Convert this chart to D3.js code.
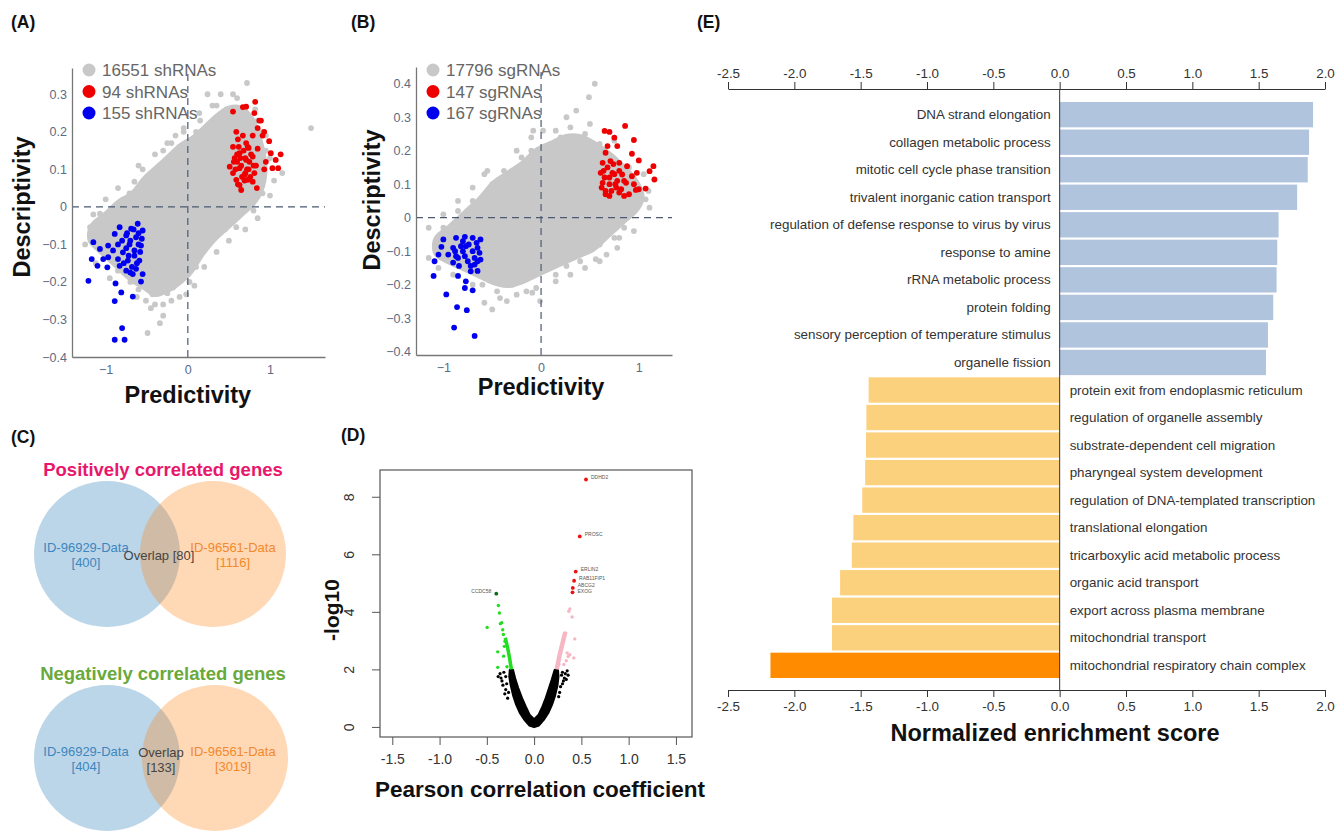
<!DOCTYPE html>
<html>
<head>
<meta charset="utf-8">
<script src="https://cdn.jsdelivr.net/npm/d3@7"></script>
<style>
  body { margin: 0; background: #fff; }
  text { font-family: "Liberation Sans", Arial, sans-serif; }
</style>
</head>
<body>
<svg id="fig" width="1337" height="832"></svg>
<script>
// ---------- panel A data (predictivity, descriptivity) ----------
const aLegend = ["16551 shRNAs", "94 shRNAs", "155 shRNAs"];
const aCloud = [[-1.2,-0.05],[-1.0,-0.01],[-0.85,0.02],[-0.7,0.04],[-0.55,0.08],[-0.4,0.11],[-0.25,0.14],[-0.1,0.17],
  [0.05,0.19],[0.2,0.22],[0.35,0.25],[0.5,0.27],[0.65,0.27],[0.8,0.24],[0.92,0.17],[0.97,0.1],[0.92,0.04],[0.8,0.0],
  [0.65,-0.03],[0.5,-0.06],[0.35,-0.09],[0.2,-0.13],[0.05,-0.18],[-0.1,-0.21],[-0.25,-0.23],[-0.4,-0.24],[-0.55,-0.22],
  [-0.7,-0.2],[-0.9,-0.16],[-1.1,-0.12],[-1.22,-0.09]];
const aGray = [[-1.19,-0.054],[-1.07,-0.018],[-0.71,0.036],[-0.65,0.067],[-0.43,0.09],[-0.55,0.1],[-0.3,0.15],[-0.1,0.16],
  [-0.2,0.17],[0.1,0.2],[0.14,0.25],[0.24,0.3],[0.3,0.22],[0.47,0.26],[0.35,0.27],[0.72,0.33],[1.5,0.21],[1.15,0.09],
  [1.05,0.07],[0.91,0.036],[0.79,0.009],[0.63,-0.018],[0.59,-0.054],[0.3,-0.072],[0.14,-0.125],[0.02,-0.2],[-0.02,-0.233],
  [-0.18,-0.215],[-0.34,-0.31],[-0.3,-0.29],[-0.49,-0.336],[-0.51,-0.25],[-0.43,-0.233],[-0.4,-0.26],[-0.9,-0.04],
  [-0.95,-0.075],[-1.1,-0.08],[-0.8,-0.02],[0.05,-0.14],[-0.25,-0.23],[-0.6,-0.22],[0.9,0.2],[0.95,0.15],[0.85,0.23],
  [-0.05,0.2],[0.4,0.3],[0.55,0.3],[0.25,-0.09],[0.45,-0.06],[-0.15,0.19],[-0.45,0.05],[0.7,0.03],[0.8,-0.01],[1.0,0.13],
  [0.1,-0.16],[-0.7,-0.2],[-0.85,-0.17],[-0.2,-0.25],[0.0,-0.18],
  [-1.15,-0.02],[-1.0,0.02],[-0.85,0.05],[-0.6,0.11],[-0.4,0.14],[-0.25,0.17],[-0.05,0.21],[0.15,0.23],[0.3,0.27],
  [0.6,0.29],[0.82,0.26],[0.95,0.19],[1.0,0.03],[0.85,-0.03],[0.7,-0.06],[0.5,-0.09],[0.35,-0.12],[0.2,-0.16],
  [0.08,-0.21],[-0.1,-0.24],[-0.3,-0.26],[-0.45,-0.27],[-0.62,-0.24],[-0.95,-0.19],[-1.12,-0.15],[-1.25,-0.1]];
const aRed = [[0.82,0.28],[0.71,0.267],[0.67,0.266],[0.55,0.254],[0.81,0.25],[0.87,0.23],[0.89,0.23],[0.85,0.21],[0.93,0.2],
  [0.59,0.2],[0.67,0.19],[0.79,0.19],[0.91,0.19],[0.61,0.18],[0.71,0.17],[0.99,0.175],[0.55,0.16],[0.74,0.157],[0.85,0.155],
  [1.01,0.143],[1.13,0.14],[0.63,0.143],[0.79,0.134],[0.57,0.13],[0.71,0.125],[0.95,0.12],[1.07,0.125],[0.83,0.11],
  [0.51,0.107],[0.63,0.103],[0.74,0.1],[0.93,0.1],[1.03,0.103],[1.1,0.103],[0.55,0.09],[0.69,0.085],[0.81,0.09],[0.59,0.072],
  [0.73,0.072],[0.63,0.058],[0.84,0.05],[0.79,0.067],[0.65,0.045],[0.6,0.12],[0.65,0.11],[0.7,0.13],[0.75,0.12],[0.6,0.14],
  [0.68,0.15],[0.72,0.1],[0.66,0.08],[0.58,0.1],[0.62,0.16],[0.77,0.14],[0.73,0.16],[0.64,0.13],[0.7,0.09],[0.76,0.08],
  [0.56,0.12],[0.69,0.07],[0.8,0.11],[0.61,0.06]];
const aBlue = [[-0.61,-0.045],[-0.83,-0.054],[-0.69,-0.058],[-0.55,-0.063],[-0.89,-0.072],[-0.75,-0.076],[-0.63,-0.081],
  [-1.15,-0.094],[-0.97,-0.103],[-0.85,-0.1],[-0.71,-0.1],[-0.57,-0.103],[-1.07,-0.112],[-0.91,-0.116],[-0.79,-0.121],
  [-0.65,-0.116],[-1.17,-0.139],[-1.03,-0.139],[-0.97,-0.134],[-0.85,-0.139],[-0.73,-0.143],[-0.59,-0.143],[-1.1,-0.157],
  [-0.98,-0.161],[-0.83,-0.157],[-0.75,-0.17],[-0.67,-0.179],[-0.55,-0.179],[-1.21,-0.197],[-0.88,-0.204],[-0.57,-0.199],
  [-0.81,-0.228],[-0.89,-0.251],[-0.67,-0.239],[-0.8,-0.323],[-0.89,-0.354],[-0.77,-0.354],[-0.7,-0.09],[-0.6,-0.1],
  [-0.75,-0.11],[-0.65,-0.13],[-0.6,-0.07],[-0.8,-0.09],[-0.72,-0.13],[-0.62,-0.15],[-0.68,-0.16],[-0.78,-0.15],
  [-0.58,-0.12],[-0.66,-0.06],[-0.74,-0.07],[-0.56,-0.085],[-0.63,-0.165],[-0.7,-0.175]];
const aXTicks = [-1, 0, 1];
const aYTicks = [-0.4, -0.3, -0.2, -0.1, 0, 0.1, 0.2, 0.3];

// ---------- panel B data ----------
const bLegend = ["17796 sgRNAs", "147 sgRNAs", "167 sgRNAs"];
const bCloud = [[-1.1,-0.06],[-0.95,-0.02],[-0.8,0.02],[-0.65,0.06],[-0.5,0.11],[-0.35,0.14],[-0.2,0.17],[-0.05,0.21],
  [0.1,0.23],[0.25,0.25],[0.4,0.25],[0.55,0.23],[0.7,0.2],[0.85,0.16],[1.0,0.11],[1.06,0.06],[1.0,0.02],[0.85,-0.02],
  [0.7,-0.06],[0.55,-0.1],[0.4,-0.12],[0.25,-0.14],[0.1,-0.16],[-0.05,-0.18],[-0.2,-0.2],[-0.35,-0.21],[-0.5,-0.2],
  [-0.65,-0.18],[-0.8,-0.16],[-0.95,-0.14],[-1.1,-0.11]];
const bGray = [[-0.58,0.13],[-0.38,0.14],[-0.08,0.26],[0.02,0.26],[0.26,0.3],[0.36,0.32],[0.55,0.4],[0.49,0.36],[1.11,0.03],
  [1.07,0.055],[0.95,0.02],[0.75,-0.06],[0.56,-0.124],[0.26,-0.144],[-0.01,-0.249],[-0.09,-0.224],[-0.35,-0.249],
  [-0.5,-0.274],[-0.58,-0.254],[-0.6,-0.2],[-0.45,-0.22],[-0.3,-0.2],[-0.15,-0.22],[0.15,-0.17],[0.4,-0.13],[0.6,-0.08],
  [0.85,-0.03],[1.0,0.08],[0.9,0.15],[0.6,0.22],[0.45,0.25],[0.2,0.24],[0.1,0.22],[-0.2,0.18],[-0.5,0.1],[-0.7,0.05],
  [-0.85,0.02],[-1.0,-0.03],[-0.95,-0.05],[0.3,0.27],[-0.1,0.2],[0.7,0.18],[0.8,-0.06],[0.67,-0.11],
  [-1.15,-0.03],[-1.0,0.01],[-0.85,0.05],[-0.7,0.09],[-0.55,0.14],[-0.25,0.2],[-0.1,0.24],[0.15,0.26],[0.5,0.28],
  [0.75,0.23],[1.05,0.13],[1.1,0.08],[0.95,-0.04],[0.78,-0.09],[0.6,-0.13],[0.45,-0.15],[0.3,-0.17],[0.15,-0.19],
  [-0.05,-0.21],[-0.25,-0.23],[-0.42,-0.24],[-0.7,-0.2],[-0.9,-0.17],[-1.05,-0.15],[-1.15,-0.12]];
const bRed = [[0.86,0.274],[0.65,0.259],[0.7,0.256],[0.75,0.239],[0.95,0.232],[0.78,0.214],[0.68,0.214],[0.66,0.194],
  [0.93,0.191],[1.0,0.171],[0.63,0.164],[0.71,0.169],[0.8,0.164],[0.88,0.154],[1.15,0.154],[1.11,0.139],[1.16,0.114],
  [0.61,0.134],[0.73,0.134],[0.83,0.129],[0.93,0.124],[0.98,0.134],[0.63,0.104],[0.76,0.1],[0.87,0.104],[0.95,0.1],
  [0.66,0.08],[0.8,0.075],[0.9,0.07],[1.0,0.085],[1.07,0.087],[0.7,0.065],[0.85,0.065],[0.97,0.083],[0.65,0.12],[0.7,0.1],
  [0.75,0.13],[0.68,0.15],[0.72,0.08],[0.78,0.11],[0.62,0.09],[0.74,0.16],[0.66,0.07],[0.8,0.14],[0.7,0.12],[0.85,0.11],
  [0.77,0.09],[0.82,0.085],[0.64,0.14]];
const bBlue = [[-1.0,-0.065],[-0.9,-0.09],[-1.02,-0.087],[-1.05,-0.11],[-0.95,-0.11],[-1.09,-0.13],[-1.1,-0.174],
  [-0.87,-0.06],[-0.78,-0.057],[-0.7,-0.06],[-0.62,-0.065],[-0.82,-0.085],[-0.74,-0.08],[-0.65,-0.09],[-0.87,-0.115],
  [-0.78,-0.115],[-0.68,-0.12],[-0.62,-0.125],[-0.9,-0.134],[-0.84,-0.144],[-0.72,-0.144],[-0.65,-0.159],[-0.85,-0.174],
  [-0.77,-0.19],[-0.78,-0.21],[-0.7,-0.217],[-0.97,-0.229],[-0.86,-0.267],[-0.76,-0.276],[-0.89,-0.328],[-0.68,-0.353],
  [-0.8,-0.1],[-0.7,-0.1],[-0.75,-0.13],[-0.66,-0.075],[-0.85,-0.12],[-0.72,-0.16],[-0.63,-0.105],[-0.8,-0.07],
  [-0.68,-0.14],[-0.88,-0.1],[-0.77,-0.085],[-0.65,-0.13]];
const bXTicks = [-1, 0, 1];
const bYTicks = [-0.4, -0.3, -0.2, -0.1, 0, 0.1, 0.2, 0.3, 0.4];

// ---------- panel C data ----------
const vennTitles = ["Positively correlated genes", "Negatively correlated genes"];
const vennNames = ["ID-96929-Data", "ID-96561-Data"];
const vennLeft = [400, 404];
const vennBoth = [80, 133];
const vennRight = [1116, 3019];

// ---------- panel D data (r, -log10 p) ----------
const volcanoBlack = [[0,0],[-0.05,0.06],[-0.1,0.25],[-0.15,0.5],[-0.19,0.8],[-0.22,1.1],[-0.245,1.45],[-0.26,1.75],
  [-0.255,1.98],[-0.225,1.98],[-0.2,1.65],[-0.17,1.35],[-0.13,1.0],[-0.09,0.7],[-0.05,0.42],[0,0.25],[0.05,0.42],
  [0.09,0.7],[0.125,1.0],[0.16,1.35],[0.19,1.65],[0.22,1.98],[0.25,1.98],[0.255,1.75],[0.245,1.45],[0.22,1.1],
  [0.19,0.8],[0.15,0.5],[0.1,0.25],[0.05,0.06]];
const volcanoBlackPts = [[-0.36,1.85],[-0.38,1.75],[-0.34,1.6],[-0.33,1.45],[-0.3,1.3],[-0.31,1.15],[-0.28,1.0],
  [-0.29,1.5],[-0.35,1.7],[-0.32,1.9],[-0.27,1.2],[-0.3,1.75],[0.3,1.9],[0.33,1.85],[0.36,1.8],[0.34,1.65],[0.3,1.5],
  [0.32,1.7],[0.28,1.4],[0.35,1.95],[0.27,1.2],[0.31,1.6],[0.29,1.8],[0.26,1.05]];
const volcanoGreenBand = [[-0.24,2.0],[-0.26,2.4],[-0.28,2.75],[-0.305,3.1]];
const volcanoGreen = [[-0.378,4.22],[-0.367,3.96],[-0.357,3.59],[-0.343,3.62],[-0.332,3.38],[-0.325,3.21],[-0.497,3.46],
  [-0.385,2.61],[-0.322,2.46],[-0.385,2.07],[-0.287,2.09],[-0.315,2.8],[-0.308,2.98]];
const volcanoPinkBand = [[0.24,2.0],[0.27,2.5],[0.3,2.9],[0.33,3.3]];
const volcanoPink = [[0.378,4.1],[0.367,4.02],[0.402,3.82],[0.43,3.06],[0.42,2.4],[0.35,2.57],[0.378,2.51],[0.315,2.17],
  [0.332,3.27],[0.308,3.04],[0.28,2.57],[0.262,2.17],[0.36,2.45],[0.34,2.3]];
const volcanoTopGenes = ["DDHD2", "PROSC", "ERLIN2", "RAB11FIP1", "ABCG2", "EXOG"];
const volcanoTopR = [0.549, 0.483, 0.44, 0.423, 0.409, 0.406];
const volcanoTopP = [8.6, 6.62, 5.4, 5.08, 4.83, 4.68];
const volcanoLowGene = ["CCDC58"];
const volcanoLowR = [-0.4];
const volcanoLowP = [4.63];
const dXTicks = [-1.5, -1.0, -0.5, 0.0, 0.5, 1.0, 1.5];
const dYTicks = [0, 2, 4, 6, 8];

// ---------- panel E data ----------
const terms = ["DNA strand elongation", "collagen metabolic process", "mitotic cell cycle phase transition",
  "trivalent inorganic cation transport", "regulation of defense response to virus by virus", "response to amine",
  "rRNA metabolic process", "protein folding", "sensory perception of temperature stimulus", "organelle fission",
  "protein exit from endoplasmic reticulum", "regulation of organelle assembly", "substrate-dependent cell migration",
  "pharyngeal system development", "regulation of DNA-templated transcription", "translational elongation",
  "tricarboxylic acid metabolic process", "organic acid transport", "export across plasma membrane",
  "mitochondrial transport", "mitochondrial respiratory chain complex"];
const nes = [1.91, 1.88, 1.87, 1.79, 1.65, 1.64, 1.635, 1.61, 1.57, 1.555,
  -1.44, -1.457, -1.46, -1.466, -1.488, -1.555, -1.567, -1.655, -1.716, -1.716, -2.18];
const eTicks = [-2.5, -2.0, -1.5, -1.0, -0.5, 0.0, 0.5, 1.0, 1.5, 2.0];

// ---------- drawing ----------
const svg = d3.select("#fig");
const LATO = "Lato, 'Open Sans', sans-serif";
const GRAY = "#c8c8c8", RED = "#ee0000", BLUE = "#0000ee";

function panelLabel(t, x, y) {
  svg.append("text").text(t).attr("x", x).attr("y", y)
    .attr("font-weight", "bold").attr("font-size", 17.5).attr("fill", "#111");
}
panelLabel("(A)", 11, 28);
panelLabel("(B)", 351, 28);
panelLabel("(C)", 11, 443);
panelLabel("(D)", 341, 441);
panelLabel("(E)", 697, 28);

function scatter(c) {
  const g = svg.append("g");
  const x = d3.scaleLinear().domain(c.xd).range(c.xr);
  const y = d3.scaleLinear().domain(c.yd).range(c.yr);
  g.append("path").datum(c.cloud)
    .attr("d", d3.line().x(d => x(d[0])).y(d => y(d[1])).curve(d3.curveCatmullRomClosed))
    .attr("fill", GRAY);
  [[c.gray, GRAY], [c.red, RED], [c.blue, BLUE]].forEach(([pts, col]) => {
    g.append("g").selectAll("circle").data(pts).join("circle")
      .attr("cx", d => x(d[0])).attr("cy", d => y(d[1])).attr("r", 2.9).attr("fill", col);
  });
  // zero lines
  g.append("line").attr("x1", x(0)).attr("x2", x(0)).attr("y1", c.yr[0]).attr("y2", c.yr[1] + 4)
    .attr("stroke", "#4b5a72").attr("stroke-dasharray", "7,5").attr("stroke-width", 1.2);
  g.append("line").attr("x1", c.xr[0]).attr("x2", c.xr[1]).attr("y1", y(0)).attr("y2", y(0))
    .attr("stroke", "#4b5a72").attr("stroke-dasharray", "7,5").attr("stroke-width", 1.2);
  const fmt = d3.format("");
  const xa = g.append("g").attr("transform", `translate(0,${c.yr[0]})`)
    .call(d3.axisBottom(x).tickValues(c.xt).tickFormat(fmt).tickSize(0).tickPadding(8));
  const ya = g.append("g").attr("transform", `translate(${c.xr[0]},0)`)
    .call(d3.axisLeft(y).tickValues(c.yt).tickFormat(fmt).tickSize(0).tickPadding(5));
  [xa, ya].forEach(a => {
    a.select(".domain").attr("stroke", "#777").attr("stroke-width", 1.3);
    a.selectAll("text").attr("fill", "#5b6b84").attr("font-size", 12.5).attr("font-family", "'Open Sans', sans-serif");
  });
  // legend
  const cols = [GRAY, RED, BLUE];
  c.legend.forEach((t, i) => {
    g.append("circle").attr("cx", c.lx).attr("cy", c.ly + i * 21.5).attr("r", 6.5).attr("fill", cols[i]);
    g.append("text").text(t).attr("x", c.lx + 13).attr("y", c.ly + i * 21.5 + 6)
      .attr("font-family", LATO).attr("font-size", 17).attr("fill", "#666");
  });
  g.append("text").text("Descriptivity").attr("transform", `translate(${c.ytx},${c.yty}) rotate(-90)`)
    .attr("text-anchor", "middle").attr("font-family", LATO).attr("font-weight", "bold").attr("font-size", 23.5).attr("fill", "#111");
  g.append("text").text("Predictivity").attr("x", x(0)).attr("y", c.xty)
    .attr("text-anchor", "middle").attr("font-family", LATO).attr("font-weight", "bold").attr("font-size", 23.5).attr("fill", "#111");
}

scatter({ xd: [-1.41, 1.67], xr: [72, 325], yd: [-0.4, 0.37], yr: [357, 68],
  cloud: aCloud, gray: aGray, red: aRed, blue: aBlue, xt: aXTicks, yt: aYTicks,
  legend: aLegend, lx: 89, ly: 70, ytx: 30, yty: 207, xty: 403 });
scatter({ xd: [-1.28, 1.34], xr: [416, 672], yd: [-0.41, 0.45], yr: [355, 67],
  cloud: bCloud, gray: bGray, red: bRed, blue: bBlue, xt: bXTicks, yt: bYTicks,
  legend: bLegend, lx: 433, ly: 70, ytx: 380, yty: 200, xty: 395 });

// ---------- C: venn ----------
const vy = d3.scalePoint().domain([0, 1]).range([554, 758]);
const vxL = 107, vGap = [106, 108], vr = 73;
const titleCols = ["#e8176b", "#6aa93c"];
vennTitles.forEach((t, i) => {
  const cy = vy(i), xR = vxL + vGap[i];
  const g = svg.append("g");
  g.append("circle").attr("cx", vxL).attr("cy", cy).attr("r", vr).attr("fill", "#1f77b4").attr("fill-opacity", 0.3);
  g.append("circle").attr("cx", xR).attr("cy", cy).attr("r", vr).attr("fill", "#ff7f0e").attr("fill-opacity", 0.3);
  g.append("text").text(t).attr("x", 163).attr("y", cy - 78)
    .attr("text-anchor", "middle").attr("font-family", LATO).attr("font-weight", "bold").attr("font-size", 18.5).attr("fill", titleCols[i]);
  const lab = (s, x, y, col) => g.append("text").text(s).attr("x", x).attr("y", y)
    .attr("text-anchor", "middle").attr("font-size", 13).attr("fill", col);
  lab(vennNames[0], 86, cy - 2, "#3d86bf");
  lab(`[${vennLeft[i]}]`, 86, cy + 13, "#3d86bf");
  lab(vennNames[1], 233, cy - 2, "#f28a2a");
  lab(`[${vennRight[i]}]`, 233, cy + 13, "#f28a2a");
  if (i === 0) lab(`Overlap [${vennBoth[i]}]`, 159, cy + 6, "#444");
  else { lab("Overlap", 161, cy - 1, "#444"); lab(`[${vennBoth[i]}]`, 161, cy + 14, "#444"); }
});

// ---------- D: volcano ----------
{
  const g = svg.append("g");
  const x = d3.scaleLinear().domain([-1.63, 1.67]).range([380, 692]);
  const y = d3.scaleLinear().domain([-0.35, 8.93]).range([737, 470]);
  const pt = (arr, col, r) => g.append("g").selectAll("circle").data(arr).join("circle")
    .attr("cx", d => x(d[0])).attr("cy", d => y(d[1])).attr("r", r).attr("fill", col);
  const line = d3.line().x(d => x(d[0])).y(d => y(d[1]));
  g.append("path").datum(volcanoBlack).attr("d", d3.line().x(d => x(d[0])).y(d => y(d[1])).curve(d3.curveLinearClosed))
    .attr("fill", "#000").attr("stroke", "#000").attr("stroke-width", 2.5).attr("stroke-linejoin", "round");
  pt(volcanoBlackPts, "#000", 1.6);
  g.append("path").datum(volcanoGreenBand).attr("d", line).attr("fill", "none").attr("stroke", "#22dd22").attr("stroke-width", 3.5);
  g.append("path").datum(volcanoPinkBand).attr("d", line).attr("fill", "none").attr("stroke", "#f6b6c4").attr("stroke-width", 4.5);
  pt(volcanoGreen, "#22dd22", 1.7);
  pt(volcanoPink, "#f6b6c4", 1.7);
  const top = volcanoTopGenes.map((n, i) => [volcanoTopR[i], volcanoTopP[i], n]);
  const low = volcanoLowGene.map((n, i) => [volcanoLowR[i], volcanoLowP[i], n]);
  pt(top, "#ee1111", 1.9);
  pt(low, "#0b6b16", 1.9);
  g.selectAll("text.gl").data(top).join("text").attr("class", "gl")
    .attr("x", d => x(d[0]) + 5).attr("y", (d, i) => y(d[1]) + (i === 5 ? 1 : -0.5)).text(d => d[2])
    .attr("font-size", 5).attr("fill", "#555");
  g.selectAll("text.gll").data(low).join("text").attr("class", "gll")
    .attr("x", d => x(d[0]) - 5).attr("y", d => y(d[1]) - 0.5).text(d => d[2])
    .attr("text-anchor", "end").attr("font-size", 5).attr("fill", "#555");
  g.append("rect").attr("x", 380).attr("y", 470).attr("width", 312).attr("height", 267)
    .attr("fill", "none").attr("stroke", "#555").attr("stroke-width", 1.2);
  const xa = g.append("g").attr("transform", "translate(0,737)")
    .call(d3.axisBottom(x).tickValues(dXTicks).tickFormat(d => d.toFixed(1)).tickSize(8).tickPadding(9));
  const ya = g.append("g").attr("transform", "translate(380,0)")
    .call(d3.axisLeft(y).tickValues(dYTicks).tickFormat(d => d).tickSize(8));
  [xa, ya].forEach(a => {
    a.select(".domain").remove();
    a.selectAll("line").attr("stroke", "#555");
    a.selectAll("text").attr("fill", "#333").attr("font-size", 14);
  });
  ya.selectAll("text").attr("transform", "rotate(-90)").attr("text-anchor", "middle")
    .attr("x", 0).attr("dy", 0).attr("y", -26);
  g.append("text").text("-log10").attr("transform", "translate(339,610) rotate(-90)")
    .attr("text-anchor", "middle").attr("font-family", LATO).attr("font-weight", "bold").attr("font-size", 21).attr("fill", "#111");
  g.append("text").text("Pearson correlation coefficient").attr("x", 540).attr("y", 797)
    .attr("text-anchor", "middle").attr("font-family", LATO).attr("font-weight", "bold").attr("font-size", 22.5).attr("fill", "#111");
}

// ---------- E: enrichment bars ----------
{
  const g = svg.append("g");
  const x = d3.scaleLinear().domain([-2.5, 2.0]).range([728, 1325]);
  const y = d3.scaleBand().domain(terms).range([102, 678]).paddingInner(0.08);
  const minV = d3.min(nes);
  g.selectAll("rect").data(terms).join("rect")
    .attr("x", (d, i) => x(Math.min(0, nes[i]))).attr("width", (d, i) => Math.abs(x(nes[i]) - x(0)))
    .attr("y", d => y(d)).attr("height", y.bandwidth())
    .attr("fill", (d, i) => nes[i] > 0 ? "#b0c4de" : (nes[i] === minV ? "#ff8c00" : "#fcd17d"));
  g.selectAll("text.term").data(terms).join("text").attr("class", "term")
    .attr("x", (d, i) => nes[i] > 0 ? x(0) - 9 : x(0) + 10)
    .attr("y", d => y(d) + y.bandwidth() / 2 + 4.5)
    .attr("text-anchor", (d, i) => nes[i] > 0 ? "end" : "start")
    .attr("font-size", 13.4).attr("fill", "#333").text(d => d);
  g.append("line").attr("x1", x(0)).attr("x2", x(0)).attr("y1", 89).attr("y2", 690).attr("stroke", "#333");
  const fmt = d => d.toFixed(1);
  const ta = g.append("g").attr("transform", "translate(0,89)")
    .call(d3.axisTop(x).tickValues(eTicks).tickFormat(fmt).tickSize(7).tickSizeOuter(0).tickPadding(4));
  const ba = g.append("g").attr("transform", "translate(0,690)")
    .call(d3.axisBottom(x).tickValues(eTicks).tickFormat(fmt).tickSize(7).tickSizeOuter(0).tickPadding(4));
  [ta, ba].forEach(a => {
    a.selectAll("path,line").attr("stroke", "#333");
    a.selectAll("text").attr("fill", "#333").attr("font-size", 13.4);
  });
  g.append("text").text("Normalized enrichment score").attr("x", 1055).attr("y", 741)
    .attr("text-anchor", "middle").attr("font-family", LATO).attr("font-weight", "bold").attr("font-size", 23.5).attr("fill", "#111");
}
</script>
</body>
</html>
